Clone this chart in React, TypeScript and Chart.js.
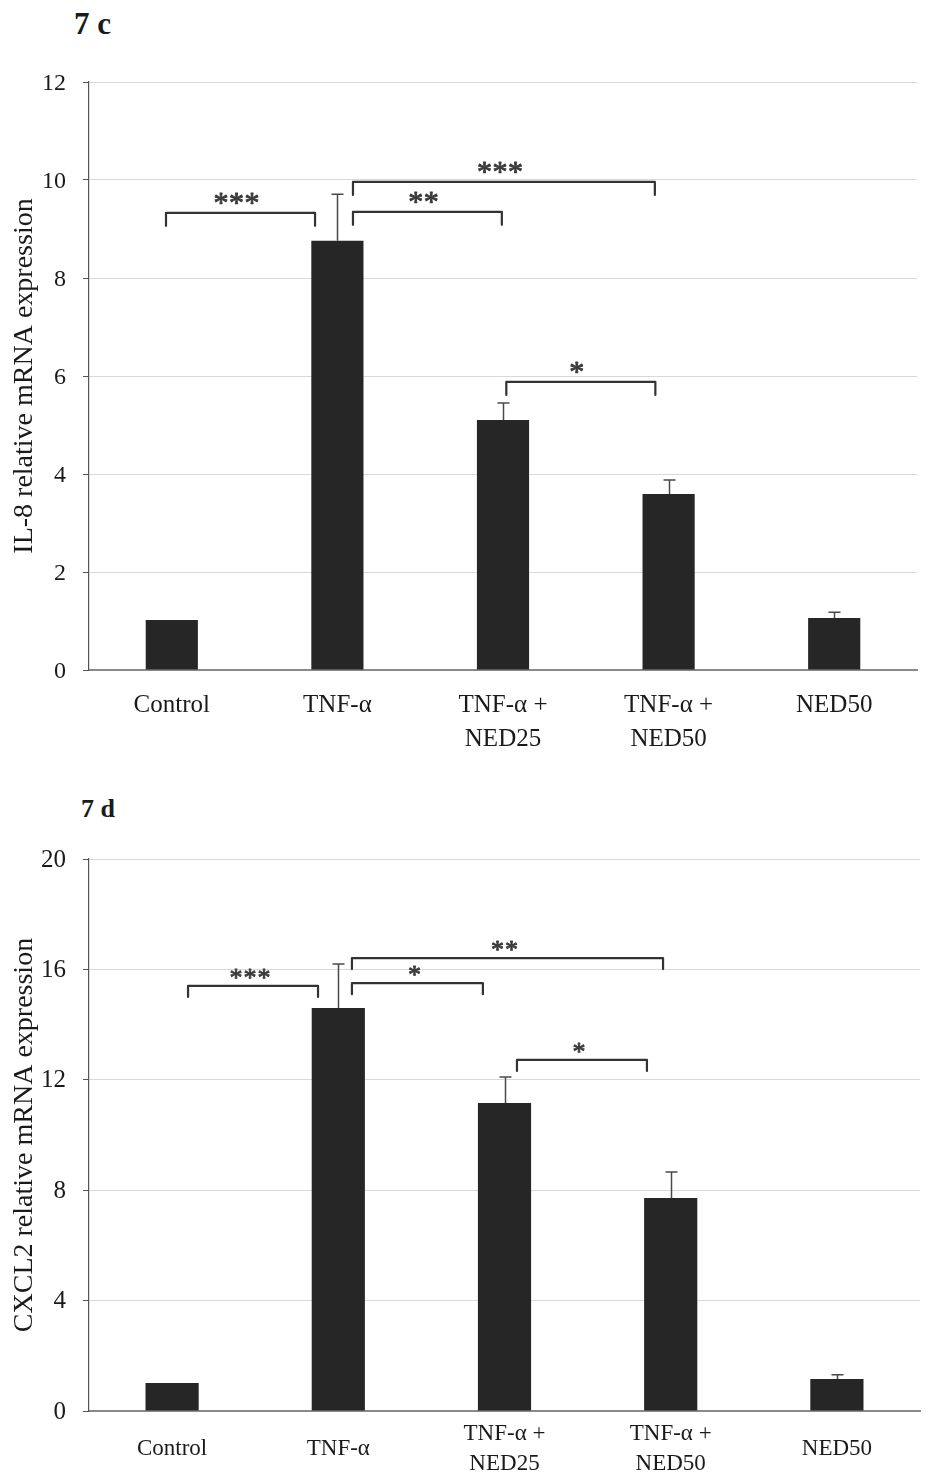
import React, { useEffect, useRef, useState } from 'react';
import { Chart, registerables } from 'chart.js';

Chart.register(...registerables);

const FONT = '"Liberation Serif", "Times New Roman", serif';

// ---------- data ----------
const categories = [['Control'], ['TNF-α'], ['TNF-α +', 'NED25'], ['TNF-α +', 'NED50'], ['NED50']];

const il8Values = [1.02, 8.76, 5.1, 3.59, 1.06];
const il8Errors = [0, 0.95, 0.35, 0.29, 0.12];
const il8Ticks = [0, 2, 4, 6, 8, 10, 12];
const il8Brackets = [
  { from: -0.035, to: 0.865, y: 9.33, label: '***' },
  { from: 1.094, to: 1.993, y: 9.35, label: '**' },
  { from: 1.094, to: 2.917, y: 9.96, label: '***' },
  { from: 2.02, to: 2.92, y: 5.88, label: '*' },
];

const cxcl2Values = [1.01, 14.6, 11.16, 7.72, 1.16];
const cxcl2Errors = [0, 1.6, 0.94, 0.94, 0.15];
const cxcl2Ticks = [0, 4, 8, 12, 16, 20];
const cxcl2Brackets = [
  { from: 0.096, to: 0.878, y: 15.4, label: '***' },
  { from: 1.082, to: 1.87, y: 15.5, label: '*' },
  { from: 1.082, to: 2.954, y: 16.41, label: '**' },
  { from: 2.075, to: 2.857, y: 12.72, label: '*' },
];

type Bracket = { from: number; to: number; y: number; label: string };

function makeAnnotations(values: number[], errors: number[], brackets: Bracket[], cfg: any) {
  return {
    id: 'sigAnnotations',
    afterDatasetsDraw(chart: any) {
      const ctx = chart.ctx;
      const xs = chart.scales.x;
      const ys = chart.scales.y;
      ctx.save();
      ctx.strokeStyle = '#4a4a4a';
      ctx.lineWidth = 1.5;
      values.forEach((v, i) => {
        const e = errors[i];
        if (!e) return;
        const px = Math.round(xs.getPixelForValue(i)) + 0.5;
        const base = ys.getPixelForValue(v);
        const topY = ys.getPixelForValue(v + e);
        ctx.beginPath();
        ctx.moveTo(px, base);
        ctx.lineTo(px, topY);
        ctx.moveTo(px - cfg.cap, topY);
        ctx.lineTo(px + cfg.cap, topY);
        ctx.stroke();
      });
      ctx.font = cfg.starSize + 'px ' + FONT;
      ctx.textAlign = 'left';
      ctx.textBaseline = 'alphabetic';
      ctx.lineJoin = 'round';
      ctx.lineCap = 'round';
      brackets.forEach((b) => {
        const x1 = xs.getPixelForValue(b.from);
        const x2 = xs.getPixelForValue(b.to);
        const yy = ys.getPixelForValue(b.y);
        ctx.strokeStyle = '#333333';
        ctx.lineWidth = 2.2;
        ctx.beginPath();
        ctx.moveTo(x1, yy + cfg.drop);
        ctx.lineTo(x1, yy);
        ctx.lineTo(x2, yy);
        ctx.lineTo(x2, yy + cfg.drop);
        ctx.stroke();
        // draw each star individually with a fixed pitch
        const m = ctx.measureText('*');
        const off = (m.actualBoundingBoxAscent - m.actualBoundingBoxDescent) / 2;
        const gw = m.actualBoundingBoxRight + m.actualBoundingBoxLeft;
        const n = b.label.length;
        const cx = (x1 + x2) / 2 - cfg.starShift;
        ctx.fillStyle = '#3c3c3c';
        ctx.strokeStyle = '#3c3c3c';
        ctx.lineWidth = 0.9;
        for (let k = 0; k < n; k++) {
          const sx = cx + (k - (n - 1) / 2) * cfg.pitch;
          const gx = sx - gw / 2 + m.actualBoundingBoxLeft;
          const gy = yy - cfg.starGap + off;
          ctx.fillText('*', gx, gy);
          ctx.strokeText('*', gx, gy);
        }
      });
      ctx.restore();
    },
  };
}

function BarPanel(p: any) {
  const ref = useRef<HTMLCanvasElement | null>(null);
  const [err, setErr] = useState('');
  useEffect(() => {
    if (!ref.current) return;
    let chart: any = null;
    try {
      chart = new Chart(ref.current, {
        type: 'bar',
        data: {
          labels: categories as any,
          datasets: [
            {
              data: p.values,
              backgroundColor: '#262626',
              borderWidth: 0,
              categoryPercentage: 1,
              barPercentage: p.barPct,
            },
          ],
        },
        options: {
          animation: false,
          responsive: false,
          devicePixelRatio: 1,
          layout: { padding: { top: p.padTop, right: p.padRight, bottom: 0, left: 0 } },
          plugins: { legend: { display: false }, tooltip: { enabled: false }, title: { display: false } },
          scales: {
            x: {
              offset: true,
              grid: { display: false, drawTicks: false },
              border: { display: true, color: '#8a8a8a', width: 2 },
              ticks: {
                color: '#1a1a1a',
                font: { family: FONT, size: p.xTickSize, lineHeight: p.xLineHeight },
                padding: p.xPadding,
                maxRotation: 0,
                autoSkip: false,
                crossAlign: p.xCrossAlign,
              },
              afterFit: (s: any) => {
                s.height = p.xHeight;
              },
            },
            y: {
              min: p.ticks[0],
              max: p.ticks[p.ticks.length - 1],
              afterBuildTicks: (s: any) => {
                s.ticks = p.ticks.map((v: number) => ({ value: v }));
              },
              grid: { color: '#d9d9d9', lineWidth: 1, tickColor: '#555555', tickLength: 6 },
              border: { display: true, color: '#555555', width: 1.2 },
              ticks: {
                color: '#1a1a1a',
                font: { family: FONT, size: p.yTickSize },
                padding: 17,
                labelOffset: p.yLabelOffset,
              },
              title: {
                display: true,
                text: p.yTitle,
                color: '#1a1a1a',
                font: { family: FONT, size: p.yTitleSize, lineHeight: 1.2 },
                padding: { top: 8, bottom: 0 },
              },
              afterFit: (s: any) => {
                s.width = 89;
              },
            },
          },
        } as any,
        plugins: [makeAnnotations(p.values, p.errors, p.brackets, p.ann)],
      });
    } catch (e: any) {
      setErr(String(e && e.stack ? e.stack : e));
    }
    return () => {
      if (chart) chart.destroy();
    };
  }, []);
  return (
    <div style={{ position: 'absolute', left: 0, top: p.top, width: 933, height: p.height }}>
      <canvas ref={ref} width={933} height={p.height} style={{ display: 'block' }} />
      {err ? <pre style={{ position: 'absolute', left: 0, top: 0, fontSize: 12, color: 'red' }}>{err}</pre> : null}
    </div>
  );
}

export default function App() {
  const titleStyle: any = {
    position: 'absolute',
    fontFamily: FONT,
    fontWeight: 'bold',
    lineHeight: 1,
    color: '#1a1a1a',
    whiteSpace: 'nowrap',
  };
  return (
    <div>
      <div style={{ ...titleStyle, left: 74, top: 8, fontSize: 31 }}>7 c</div>
      <BarPanel
        top={40}
        height={740}
        padTop={42}
        padRight={16}
        xHeight={110}
        values={il8Values}
        errors={il8Errors}
        ticks={il8Ticks}
        brackets={il8Brackets}
        yTitle="IL-8 relative mRNA expression"
        yTitleSize={28}
        yTickSize={24}
        yLabelOffset={2}
        xTickSize={25}
        xLineHeight={1.38}
        xPadding={18}
        xCrossAlign="near"
        barPct={0.315}
        ann={{ cap: 6, drop: 13, starSize: 30, pitch: 15.5, starGap: 14, starShift: 4 }}
      />
      <div style={{ ...titleStyle, left: 81, top: 796, fontSize: 26 }}>7 d</div>
      <BarPanel
        top={820}
        height={655}
        padTop={39}
        padRight={13}
        xHeight={64}
        values={cxcl2Values}
        errors={cxcl2Errors}
        ticks={cxcl2Ticks}
        brackets={cxcl2Brackets}
        yTitle="CXCL2 relative mRNA expression"
        yTitleSize={28}
        yTickSize={25}
        yLabelOffset={1}
        xTickSize={23}
        xLineHeight={1.3}
        xPadding={23}
        xCrossAlign="center"
        barPct={0.32}
        ann={{ cap: 6, drop: 11, starSize: 26, pitch: 14, starGap: 12, starShift: 3 }}
      />
    </div>
  );
}
